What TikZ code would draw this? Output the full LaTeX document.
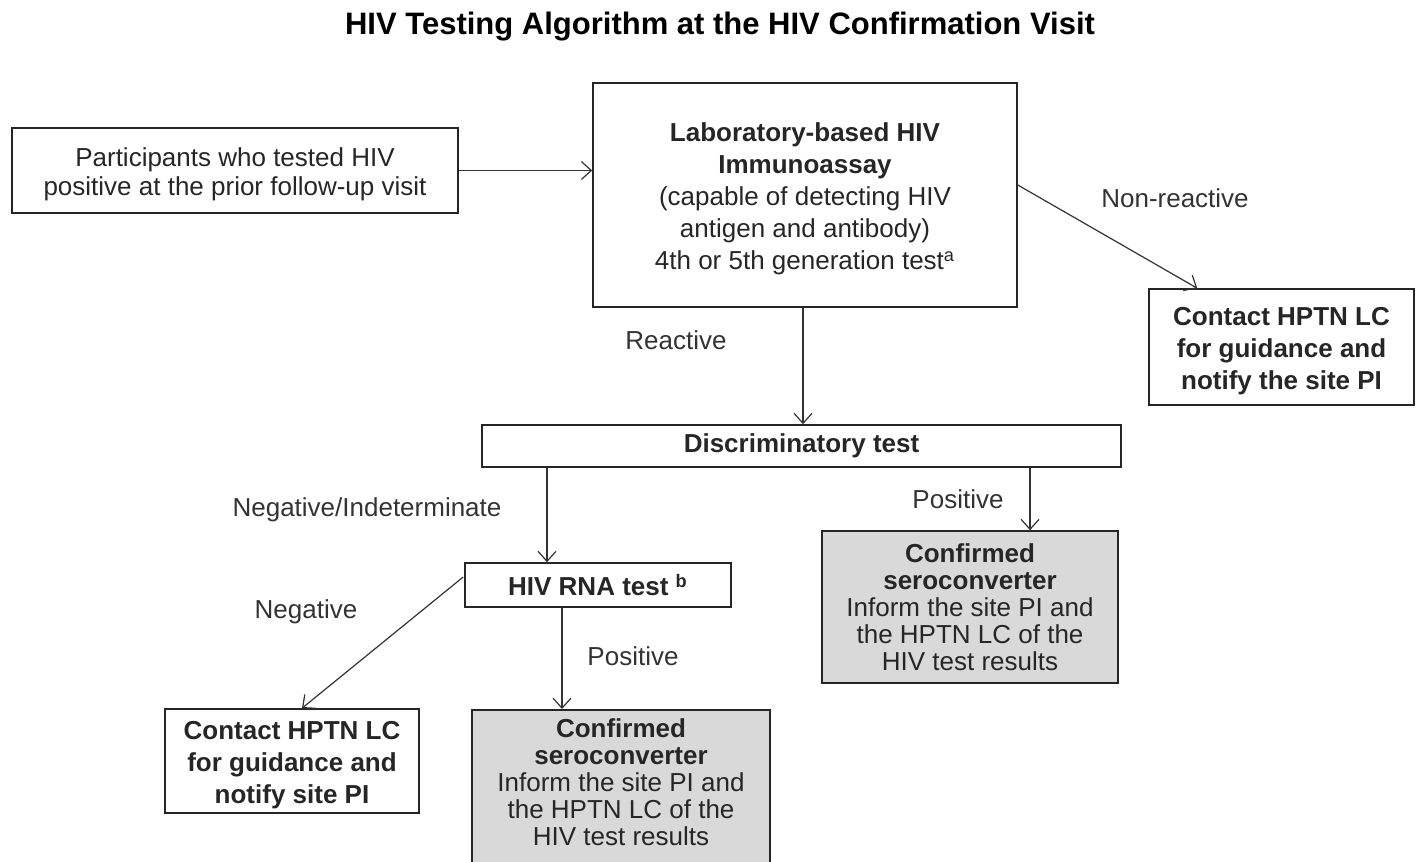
\documentclass[tikz,border=0pt]{standalone}
\usepackage{fontspec}
\setmainfont{Liberation Sans}
\usetikzlibrary{arrows.meta,calc}
\newcommand{\dropstrut}{\rule{0pt}{13.5pt}}
\begin{document}
\begin{tikzpicture}[x=0.5pt,y=-0.5pt,
  box/.style={draw=black!85,line width=0.8pt,align=center,inner sep=0pt,
    font=\fontsize{13}{16}\selectfont,text=black!85},
  gray/.style={box,fill=black!15,font=\fontsize{13}{13.5}\selectfont},
  arr/.style={draw=black!80,line width=0.6pt,-{Straight Barb[length=5pt,width=9pt,line width=0.6pt]}},
  lbl/.style={font=\fontsize{13}{15}\selectfont,text=black!80,inner sep=0pt}]
\useasboundingbox (0,0) rectangle (1416,861);
\node[font=\bfseries\fontsize{15.5}{18}\selectfont,inner sep=0pt] (title) at (720,27)
  {HIV Testing Algorithm at the HIV Confirmation Visit};
\node[box,minimum width=223pt,minimum height=42.5pt,font=\fontsize{13}{14.5}\selectfont] (part) at (235,170.5)
  {\dropstrut Participants who tested HIV\\positive at the prior follow-up visit};
\node[box,minimum width=212pt,minimum height=112pt] (lab) at (805,195)
  {\dropstrut\textbf{Laboratory-based HIV}\\\textbf{Immunoassay}\\(capable of detecting HIV\\antigen and antibody)\\4th or 5th generation test\textsuperscript{a}};
\node[box,minimum width=132.5pt,minimum height=58pt] (contR) at (1281.5,347)
  {\dropstrut\textbf{Contact HPTN LC}\\\textbf{for guidance and}\\\textbf{notify the site PI}};
\node[box,minimum width=319.5pt,minimum height=21pt] (disc) at (801.5,446)
  {\textbf{Discriminatory test}};
\node[box,minimum width=133pt,minimum height=22pt] (rna) at (598,585)
  {\textbf{HIV RNA test \textsuperscript{b}}};
\node[gray,minimum width=148pt,minimum height=76pt] (confR) at (970,607)
  {\textbf{Confirmed}\\\textbf{seroconverter}\\Inform the site PI and\\the HPTN LC of the\\HIV test results};
\node[box,minimum width=127pt,minimum height=52pt] (contL) at (292,761)
  {\dropstrut\textbf{Contact HPTN LC}\\\textbf{for guidance and}\\\textbf{notify site PI}};
\node[gray,minimum width=149pt,minimum height=82pt,anchor=north] (confL) at (621,709) {};
\node[align=center,inner sep=0pt,font=\fontsize{13}{13.5}\selectfont,text=black!85] (confLt) at (621,782)
  {\textbf{Confirmed}\\\textbf{seroconverter}\\Inform the site PI and\\the HPTN LC of the\\HIV test results};
% connectors
\draw[arr] (part.east) -- (part.east -| lab.west);
\coordinate (a1) at ($(lab.east)+(0,-10)$);
\coordinate (a2) at ($(contR.north west)+(49,0)$);
\draw[arr] (a1) -- (a2);
\coordinate (r1) at ($(lab.south)+(-2,0)$);
\draw[arr] (r1) -- (r1 |- disc.north);
\coordinate (b1) at ($(rna.north)+(-51,0)$);
\draw[arr] (b1 |- disc.south) -- (b1);
\coordinate (c1) at ($(confR.north)+(60,0)$);
\draw[arr] (c1 |- disc.south) -- (c1);
\coordinate (d1) at ($(rna.west)+(-1,-8)$);
\coordinate (d2) at ($(contL.north)+(10,0)$);
\draw[arr] (d1) -- (d2);
\coordinate (e1) at ($(rna.south)+(-36,0)$);
\draw[arr] (e1) -- (e1 |- confL.north);
% labels
\node[lbl] (l1) at (1175,198) {Non-reactive};
\node[lbl] (l2) at (676,340) {Reactive};
\node[lbl] (l3) at (367,510) {Negative/Indeterminate};
\node[lbl] (l4) at (958,499) {Positive};
\node[lbl] (l5) at (306,612) {Negative};
\node[lbl] (l6) at (633,656) {Positive};
\end{tikzpicture}
\end{document}
